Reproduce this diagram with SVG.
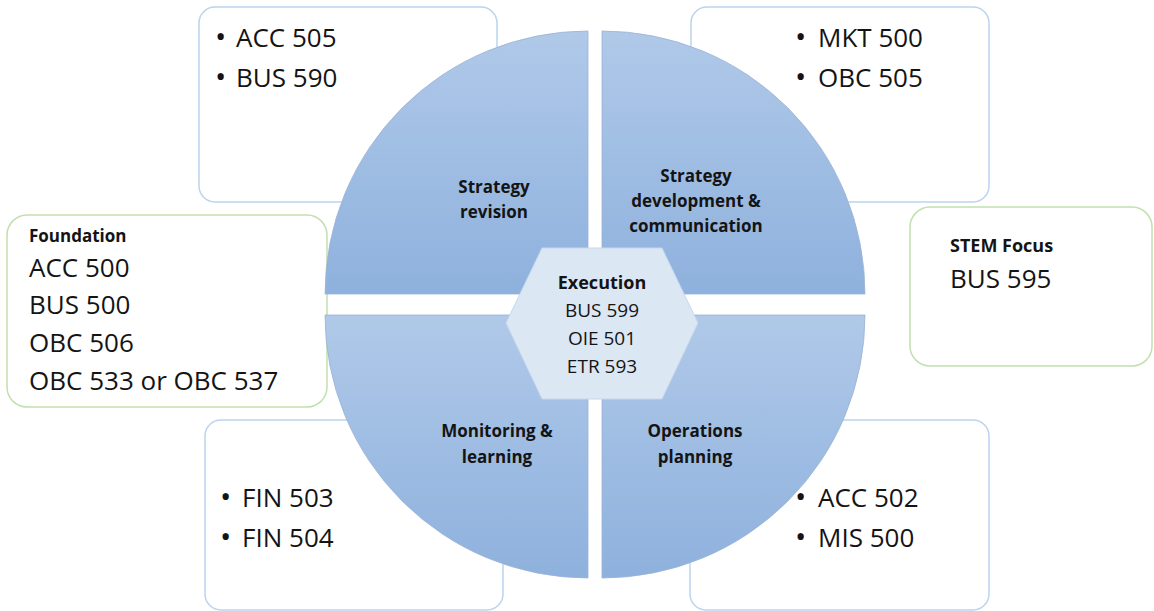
<svg xmlns="http://www.w3.org/2000/svg" width="1154" height="611" viewBox="0 0 1154 611">
<defs>
<linearGradient id="qg" x1="0" y1="0" x2="0" y2="1">
<stop offset="0" stop-color="#b0c9e9"/>
<stop offset="1" stop-color="#8eb1dd"/>
</linearGradient>
<style>
.box{fill:#fff;stroke:#bcd3ee;stroke-width:1.5}
.gbox{fill:#fff;stroke:#c2dfae;stroke-width:1.5}
.q{fill:url(#qg);stroke:#9bb3d4;stroke-width:0.8}
.hex{fill:#dce7f4;stroke:#c6d7ec;stroke-width:1}
.t{font-family:"Open Sans","Noto Sans",sans-serif;fill:#141414}
.lg{font-size:26px}
.bu{font-size:30px}
.b{font-weight:bold}
.lab{font-size:17px;font-weight:bold;text-anchor:middle}
.mid{text-anchor:middle}
</style>
</defs>
<rect width="1154" height="611" fill="#fff"/>
<g id="box-tl"><rect class="box" x="199" y="7" width="298" height="195" rx="16"/>
<text class="t lg" y="47"><tspan class="bu" x="215">•</tspan><tspan x="236">ACC 505</tspan></text>
<text class="t lg" y="87"><tspan class="bu" x="215">•</tspan><tspan x="236">BUS 590</tspan></text></g>
<g id="box-tr"><rect class="box" x="691" y="7" width="298" height="195" rx="16"/>
<text class="t lg" y="47"><tspan class="bu" x="795">•</tspan><tspan x="818">MKT 500</tspan></text>
<text class="t lg" y="87"><tspan class="bu" x="795">•</tspan><tspan x="818">OBC 505</tspan></text></g>
<g id="box-bl"><rect class="box" x="205" y="420" width="298" height="190" rx="16"/>
<text class="t lg" y="507"><tspan class="bu" x="220">•</tspan><tspan x="242">FIN 503</tspan></text>
<text class="t lg" y="547"><tspan class="bu" x="220">•</tspan><tspan x="242">FIN 504</tspan></text></g>
<g id="box-br"><rect class="box" x="690" y="420" width="299" height="190" rx="16"/>
<text class="t lg" y="507"><tspan class="bu" x="795">•</tspan><tspan x="818">ACC 502</tspan></text>
<text class="t lg" y="547"><tspan class="bu" x="795">•</tspan><tspan x="818">MIS 500</tspan></text></g>
<g id="foundation"><rect class="gbox" x="7" y="215" width="320" height="192" rx="20"/>
<text class="t b" x="29" y="242" font-size="17">Foundation</text>
<text class="t lg" x="29" y="277">ACC 500</text>
<text class="t lg" x="29" y="314">BUS 500</text>
<text class="t lg" x="29" y="352">OBC 506</text>
<text class="t lg" x="29" y="390">OBC 533 or OBC 537</text></g>
<g id="stem"><rect class="gbox" x="910" y="207" width="242" height="159" rx="20"/>
<text class="t b" x="950" y="252" font-size="18">STEM Focus</text>
<text class="t lg" x="950" y="288">BUS 595</text></g>
<g id="q-tl"><path class="q" d="M588,294 L325,294 A263,263 0 0 1 588,31 Z"/>
<text class="t lab" x="494" y="193">Strategy</text><text class="t lab" x="494" y="218">revision</text></g>
<g id="q-tr"><path class="q" d="M602,294 L602,31 A263,263 0 0 1 865,294 Z"/>
<text class="t lab" x="696" y="182">Strategy</text><text class="t lab" x="696" y="207">development &amp;</text><text class="t lab" x="696" y="232">communication</text></g>
<g id="q-bl"><path class="q" d="M588,315 L588,578 A263,263 0 0 1 325,315 Z"/>
<text class="t lab" x="497" y="437">Monitoring &amp;</text><text class="t lab" x="497" y="463">learning</text></g>
<g id="q-br"><path class="q" d="M602,315 L865,315 A263,263 0 0 1 602,578 Z"/>
<text class="t lab" x="695" y="437">Operations</text><text class="t lab" x="695" y="463">planning</text></g>
<g id="execution"><polygon class="hex" points="506,323 542,248 662,248 698,323 662,399 542,399"/>
<text class="t b mid" x="602" y="289" font-size="18">Execution</text>
<text class="t mid" x="602" y="317" font-size="19">BUS 599</text>
<text class="t mid" x="602" y="345" font-size="19">OIE 501</text>
<text class="t mid" x="602" y="373" font-size="19">ETR 593</text></g>
<g id="connectors"></g>
</svg>
